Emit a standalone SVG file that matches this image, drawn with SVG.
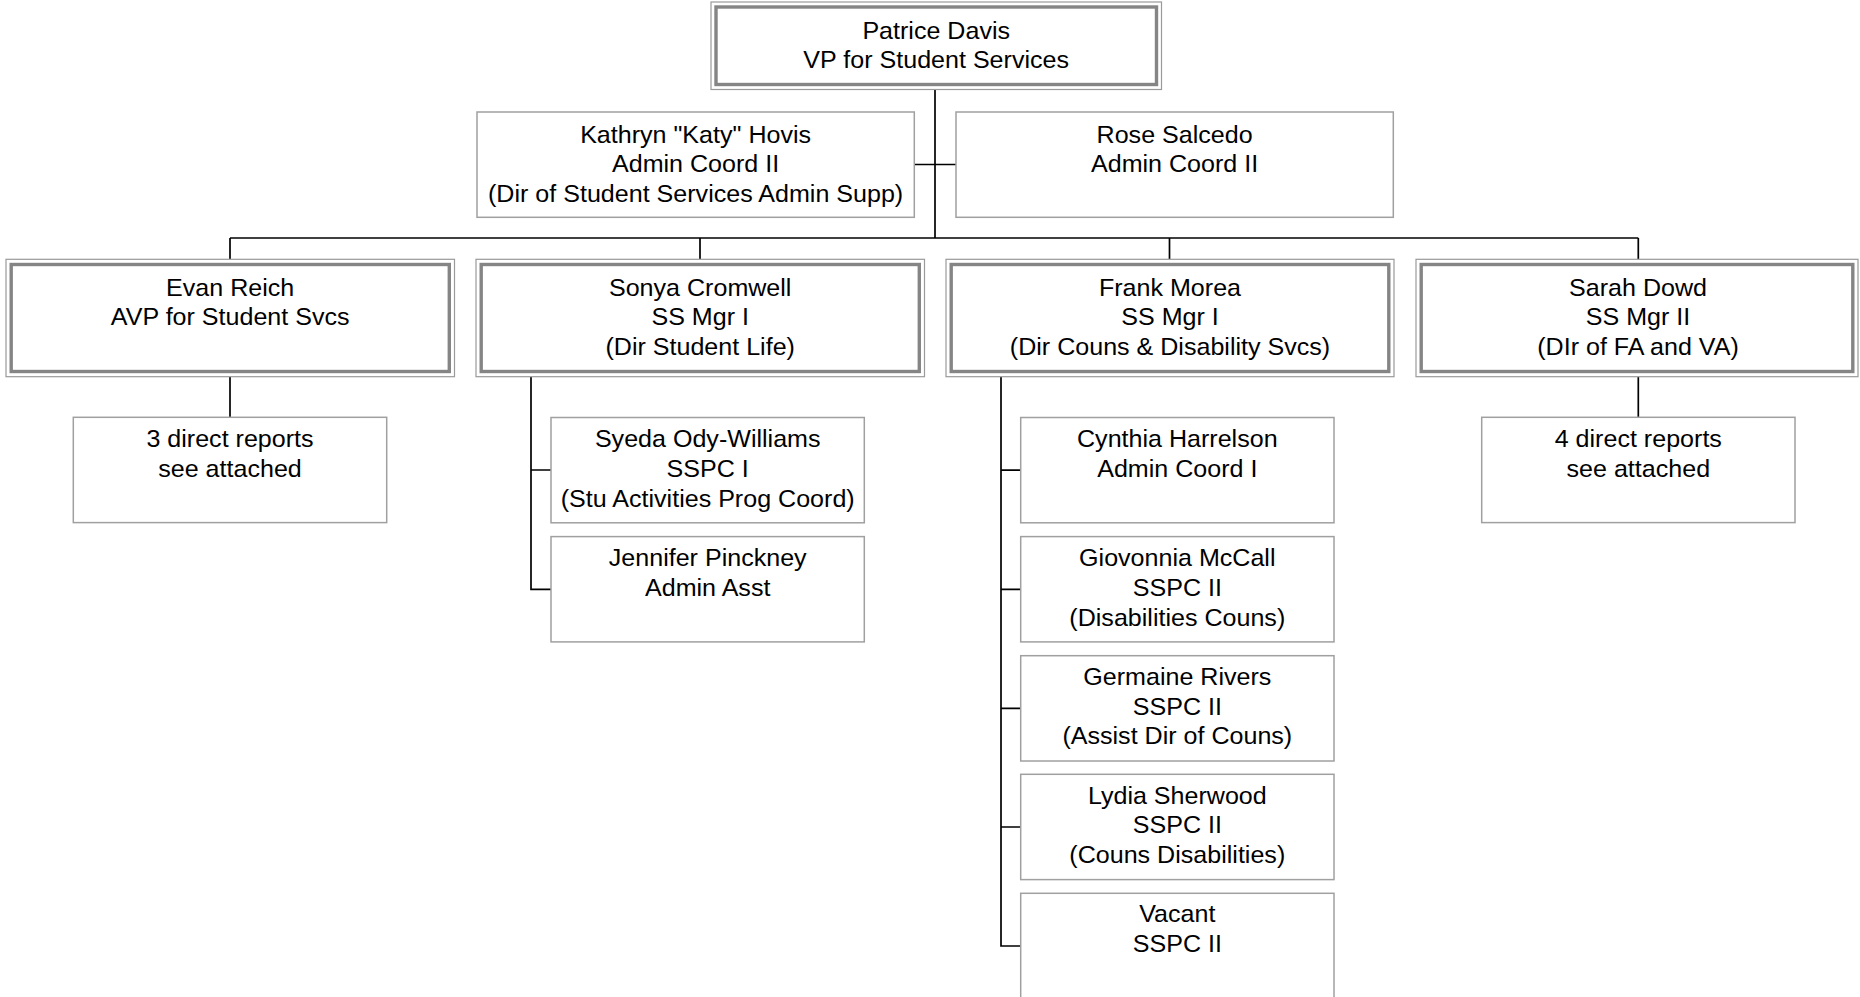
<svg xmlns="http://www.w3.org/2000/svg" width="1860" height="997" viewBox="0 0 1860 997">
<style>
  .bg{fill:#fff}
  .outer{fill:#fff;stroke:#9a9a9a;stroke-width:1.2}
  .inner{fill:none;stroke:#858585;stroke-width:3.4}
  .box{fill:#fff;stroke:#a0a0a0;stroke-width:1.5}
  .lbl{font-family:"Liberation Sans",Arial,Helvetica,sans-serif;font-size:24px;fill:#000;text-anchor:middle}
  .conn{fill:none;stroke:#000;stroke-width:1.7}
</style>
<rect class="bg" x="0" y="0" width="1860" height="997"/>

<g id="connectors">
  <path class="conn" d="M935 89.5 V238"/>
  <path class="conn" d="M914.3 164.5 H956"/>
  <path class="conn" d="M230 238 H1638.3"/>
  <path class="conn" d="M230 238 V259.3 M700 238 V259.3 M1169.5 238 V259.3 M1638.3 238 V259.3"/>
  <path class="conn" d="M230 376.7 V417.3"/>
  <path class="conn" d="M531 376.7 V589.3 H551 M531 470 H551"/>
  <path class="conn" d="M1001 376.7 V946 H1020.7 M1001 470.2 H1020.7 M1001 589.3 H1020.7 M1001 708.4 H1020.7 M1001 827 H1020.7"/>
  <path class="conn" d="M1638.3 376.7 V417.3"/>
</g>

<g id="patrice">
  <rect class="outer" x="711" y="2" width="450.5" height="87.5"/>
  <rect class="inner" x="716" y="7" width="440.5" height="77.5"/>
  <text class="lbl" transform="matrix(1.045 0 0 1 936.2 0)"><tspan x="0" y="39">Patrice Davis</tspan><tspan x="0" y="68.5">VP for Student Services</tspan></text>
</g>

<g id="katy">
  <rect class="box" x="477" y="112" width="437.3" height="105.3"/>
  <text class="lbl" transform="matrix(1.045 0 0 1 695.6 0)"><tspan x="0" y="143">Kathryn "Katy" Hovis</tspan><tspan x="0" y="172.5">Admin Coord II</tspan><tspan x="0" y="202">(Dir of Student Services Admin Supp)</tspan></text>
</g>

<g id="rose">
  <rect class="box" x="956" y="112" width="437.3" height="105.3"/>
  <text class="lbl" transform="matrix(1.045 0 0 1 1174.6 0)"><tspan x="0" y="143">Rose Salcedo</tspan><tspan x="0" y="172.5">Admin Coord II</tspan></text>
</g>

<g id="evan">
  <rect class="outer" x="6" y="259.3" width="448.5" height="117.4"/>
  <rect class="inner" x="11.2" y="264.5" width="438.1" height="107"/>
  <text class="lbl" transform="matrix(1.045 0 0 1 230.2 0)"><tspan x="0" y="295.6">Evan Reich</tspan><tspan x="0" y="325.3">AVP for Student Svcs</tspan></text>
</g>

<g id="sonya">
  <rect class="outer" x="476" y="259.3" width="448.5" height="117.4"/>
  <rect class="inner" x="481.2" y="264.5" width="438.1" height="107"/>
  <text class="lbl" transform="matrix(1.045 0 0 1 700.2 0)"><tspan x="0" y="295.6">Sonya Cromwell</tspan><tspan x="0" y="325.3">SS Mgr I</tspan><tspan x="0" y="355">(Dir Student Life)</tspan></text>
</g>

<g id="frank">
  <rect class="outer" x="946" y="259.3" width="448" height="117.4"/>
  <rect class="inner" x="951.2" y="264.5" width="437.6" height="107"/>
  <text class="lbl" transform="matrix(1.045 0 0 1 1170 0)"><tspan x="0" y="295.6">Frank Morea</tspan><tspan x="0" y="325.3">SS Mgr I</tspan><tspan x="0" y="355">(Dir Couns &amp; Disability Svcs)</tspan></text>
</g>

<g id="sarah">
  <rect class="outer" x="1416" y="259.3" width="442" height="117.4"/>
  <rect class="inner" x="1421.2" y="264.5" width="431.6" height="107"/>
  <text class="lbl" transform="matrix(1.045 0 0 1 1638 0)"><tspan x="0" y="295.6">Sarah Dowd</tspan><tspan x="0" y="325.3">SS Mgr II</tspan><tspan x="0" y="355">(DIr of FA and VA)</tspan></text>
</g>

<g id="evan-reports">
  <rect class="box" x="73.3" y="417.3" width="313.4" height="105.3"/>
  <text class="lbl" transform="matrix(1.045 0 0 1 230 0)"><tspan x="0" y="447.5">3 direct reports</tspan><tspan x="0" y="477">see attached</tspan></text>
</g>

<g id="syeda">
  <rect class="box" x="551" y="417.5" width="313.3" height="105.3"/>
  <text class="lbl" transform="matrix(1.045 0 0 1 707.7 0)"><tspan x="0" y="447.5">Syeda Ody-Williams</tspan><tspan x="0" y="477">SSPC I</tspan><tspan x="0" y="506.8">(Stu Activities Prog Coord)</tspan></text>
</g>

<g id="jennifer">
  <rect class="box" x="551" y="536.6" width="313.3" height="105.3"/>
  <text class="lbl" transform="matrix(1.045 0 0 1 707.7 0)"><tspan x="0" y="566.3">Jennifer Pinckney</tspan><tspan x="0" y="595.9">Admin Asst</tspan></text>
</g>

<g id="cynthia">
  <rect class="box" x="1020.7" y="417.5" width="313.3" height="105.3"/>
  <text class="lbl" transform="matrix(1.045 0 0 1 1177.3 0)"><tspan x="0" y="447.5">Cynthia Harrelson</tspan><tspan x="0" y="477">Admin Coord I</tspan></text>
</g>

<g id="giovonnia">
  <rect class="box" x="1020.7" y="536.6" width="313.3" height="105.3"/>
  <text class="lbl" transform="matrix(1.045 0 0 1 1177.3 0)"><tspan x="0" y="566.3">Giovonnia McCall</tspan><tspan x="0" y="595.9">SSPC II</tspan><tspan x="0" y="625.6">(Disabilities Couns)</tspan></text>
</g>

<g id="germaine">
  <rect class="box" x="1020.7" y="655.7" width="313.3" height="105.3"/>
  <text class="lbl" transform="matrix(1.045 0 0 1 1177.3 0)"><tspan x="0" y="685">Germaine Rivers</tspan><tspan x="0" y="714.6">SSPC II</tspan><tspan x="0" y="744.3">(Assist Dir of Couns)</tspan></text>
</g>

<g id="lydia">
  <rect class="box" x="1020.7" y="774.3" width="313.3" height="105.3"/>
  <text class="lbl" transform="matrix(1.045 0 0 1 1177.3 0)"><tspan x="0" y="803.6">Lydia Sherwood</tspan><tspan x="0" y="833.2">SSPC II</tspan><tspan x="0" y="862.9">(Couns Disabilities)</tspan></text>
</g>

<g id="vacant">
  <rect class="box" x="1020.7" y="893.3" width="313.3" height="105.3"/>
  <text class="lbl" transform="matrix(1.045 0 0 1 1177.3 0)"><tspan x="0" y="922.3">Vacant</tspan><tspan x="0" y="951.9">SSPC II</tspan></text>
</g>

<g id="sarah-reports">
  <rect class="box" x="1481.7" y="417.3" width="313.3" height="105.3"/>
  <text class="lbl" transform="matrix(1.045 0 0 1 1638.3 0)"><tspan x="0" y="447.5">4 direct reports</tspan><tspan x="0" y="477">see attached</tspan></text>
</g>
</svg>
